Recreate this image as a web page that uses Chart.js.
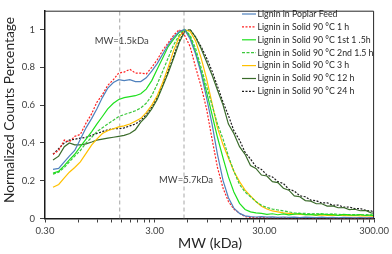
<!DOCTYPE html>
<html><head><meta charset="utf-8">
<script src="https://cdn.jsdelivr.net/npm/chart.js@4/dist/chart.umd.min.js"></script>
<style>html,body{margin:0;padding:0;background:#fff}canvas{display:block}</style>
</head><body>
<canvas id="c" width="392" height="254" style="width:392px;height:254px"></canvas>
<script>
// ---- data ----
const mw = [0.355,0.40,0.45,0.50,0.56,0.63,0.71,0.80,0.89,1.0,1.12,1.26,1.41,1.58,1.78,2.0,2.24,2.51,2.82,3.16,
  3.55,3.98,4.47,5.01,5.62,6.31,7.08,7.94,8.91,10,11.2,12.6,14.1,15.8,17.8,20,22.4,25.1,28.2,31.6,
  35.5,39.8,44.7,50.1,56.2,63.1,70.8,79.4,89.1,100,112,126,141,158,178,200,224,251,282,300];

const seriesNames = ['Lignin in Poplar Feed','Lignin in Solid 90 °C 1 h','Lignin in Solid 90 °C 1st 1 .5h',
  'Lignin in Solid 90 °C 2nd 1.5 h','Lignin in Solid 90 °C 3 h','Lignin in Solid 90 °C 12 h','Lignin in Solid 90 °C 24 h'];

const poplarFeed = [0.26,0.265,0.30,0.33,0.36,0.42,0.48,0.53,0.58,0.64,0.69,0.72,0.735,0.73,0.735,0.725,0.725,0.745,0.78,0.82,
  0.87,0.92,0.96,0.99,1.0,0.95,0.87,0.77,0.64,0.50,0.34,0.20,0.11,0.055,0.027,0.014,0.010,0.008,0.010,0.007,
  0.009,0.006,0.008,0.006,0.007,0.005,0.007,0.006,0.005,0.007,0.005,0.006,0.004,0.006,0.005,0.004,0.005,0.004,0.005,0.004];

const solid1h = [0.34,0.36,0.415,0.405,0.435,0.445,0.505,0.555,0.615,0.655,0.705,0.735,0.77,0.775,0.79,0.77,0.77,0.765,0.80,0.84,
  0.89,0.93,0.97,1.0,0.97,0.91,0.80,0.70,0.58,0.42,0.27,0.16,0.09,0.05,0.028,0.010,0.005,0.004,0.006,0.003,
  0.004,0.003,0.005,0.003,0.004,0.002,0.004,0.003,0.002,0.004,0.003,0.002,0.003,0.002,0.003,0.002,0.003,0.002,0.002,0.002];

const solid1st15h = [0.24,0.25,0.28,0.31,0.34,0.38,0.42,0.46,0.50,0.54,0.58,0.61,0.63,0.64,0.645,0.65,0.66,0.685,0.73,0.79,
  0.85,0.91,0.95,0.985,1.0,0.96,0.88,0.78,0.67,0.55,0.43,0.32,0.22,0.14,0.08,0.048,0.035,0.030,0.027,0.022,
  0.025,0.020,0.024,0.019,0.023,0.026,0.020,0.022,0.018,0.024,0.020,0.021,0.017,0.022,0.019,0.018,0.021,0.016,0.019,0.015];

const solid2nd15h = [0.235,0.245,0.27,0.30,0.33,0.36,0.40,0.43,0.46,0.48,0.50,0.52,0.54,0.55,0.56,0.57,0.585,0.61,0.65,0.71,
  0.78,0.85,0.92,0.97,1.0,0.97,0.90,0.80,0.70,0.60,0.50,0.42,0.33,0.25,0.18,0.14,0.115,0.09,0.07,0.058,
  0.05,0.045,0.04,0.035,0.03,0.028,0.027,0.025,0.026,0.024,0.023,0.025,0.022,0.020,0.021,0.020,0.019,0.020,0.018,0.017];

const solid3h = [0.165,0.18,0.215,0.245,0.27,0.30,0.345,0.39,0.42,0.45,0.465,0.475,0.485,0.49,0.50,0.515,0.53,0.56,0.60,0.65,
  0.72,0.80,0.89,0.96,1.0,0.99,0.94,0.85,0.74,0.61,0.48,0.39,0.32,0.25,0.195,0.15,0.12,0.09,0.065,0.05,
  0.04,0.035,0.03,0.027,0.024,0.022,0.020,0.021,0.018,0.019,0.017,0.018,0.016,0.017,0.015,0.016,0.014,0.015,0.013,0.012];

const solid12h = [0.31,0.33,0.38,0.40,0.39,0.39,0.395,0.405,0.415,0.42,0.425,0.43,0.435,0.44,0.45,0.47,0.51,0.54,0.58,0.63,
  0.70,0.77,0.85,0.93,0.99,1.0,0.96,0.90,0.83,0.76,0.68,0.60,0.50,0.45,0.38,0.34,0.28,0.265,0.23,0.225,
  0.195,0.19,0.16,0.15,0.12,0.115,0.095,0.092,0.078,0.078,0.066,0.067,0.057,0.058,0.047,0.049,0.041,0.043,0.03,0.028];

const solid24h = [0.34,0.37,0.40,0.415,0.42,0.425,0.43,0.44,0.45,0.46,0.47,0.475,0.475,0.48,0.49,0.50,0.52,0.55,0.59,0.64,
  0.71,0.78,0.86,0.94,0.99,1.0,0.96,0.91,0.85,0.78,0.70,0.615,0.545,0.465,0.415,0.35,0.315,0.275,0.26,0.23,
  0.22,0.195,0.185,0.155,0.145,0.12,0.115,0.097,0.094,0.082,0.083,0.07,0.071,0.06,0.061,0.052,0.053,0.043,0.04,0.034];

const xMajorTicks = [0.3, 3, 30, 300];
const xTickLabels = ['0.30', '3.00', '30.00', '300.00'];
const yTicks = [0, 0.2, 0.4, 0.6, 0.8, 1];
const yTickLabels = ['0', '0.2', '0.4', '0.6', '0.8', '1'];
const markerMW = [1.44, 5.55];
const markerLabels = ['MW=1.5kDa', 'MW=5.7kDa'];
const xTitle = 'MW (kDa)';
const yTitle = 'Normalized Counts Percentage';

// ---- styles ----
const seriesValues = [poplarFeed, solid1h, solid1st15h, solid2nd15h, solid3h, solid12h, solid24h];
const colors = ['#4f81bd', '#ff2020', '#1ee01e', '#3cc83c', '#ffc000', '#3a6b2a', '#1a1a1a'];
const dashes = [[], [2, 1.5], [], [3, 1.5], [], [], [2, 1.5]];
const FONT = 'Lato, "Open Sans", sans-serif';

const allXTicks = [];
xMajorTicks.forEach((m, i) => {
  allXTicks.push(m);
  if (i < xMajorTicks.length - 1) for (let k = 2; k <= 9; k++) allXTicks.push(+(m * k).toFixed(6));
});

const datasets = seriesValues.map((vals, s) => ({
  label: seriesNames[s],
  data: mw.map((x, i) => ({ x, y: vals[i] })),
  borderColor: colors[s],
  borderDash: dashes[s],
  borderWidth: 1.2,
  pointRadius: 0,
  tension: 0,
  fill: false,
  isSeries: true,
  order: s
}));
markerMW.forEach(m => datasets.push({
  label: 'marker',
  data: [{ x: m, y: 0 }, { x: m, y: 1.1 }],
  borderColor: '#a6a6a6',
  borderDash: [4, 3],
  borderWidth: 1,
  pointRadius: 0,
  order: 20
}));

function fitSize(ctx, text, target, weight) {
  ctx.font = (weight || '') + ' 10px ' + FONT;
  return 10 * target / ctx.measureText(text).width;
}

const decor = {
  id: 'decor',
  afterDraw(chart) {
    const { ctx, chartArea: a, scales } = chart;
    ctx.save();
    // frame top/right
    ctx.strokeStyle = '#262626';
    ctx.lineWidth = 1;
    ctx.beginPath();
    ctx.moveTo(a.left, a.top + 0.5);
    ctx.lineTo(a.right - 0.5, a.top + 0.5);
    ctx.lineTo(a.right - 0.5, a.bottom);
    ctx.stroke();

    // marker labels
    ctx.fillStyle = '#404040';
    ctx.textAlign = 'center';
    ctx.textBaseline = 'middle';
    ctx.font = '9.5px ' + FONT;
    const labelVals = [0.94, 0.205];
    markerMW.forEach((m, i) => {
      const px = scales.x.getPixelForValue(m);
      ctx.fillText(markerLabels[i], px + 2, scales.y.getPixelForValue(labelVals[i]));
    });

    // legend
    const ls = fitSize(ctx, seriesNames[3], 116);
    ctx.font = ls.toFixed(2) + 'px ' + FONT;
    ctx.textAlign = 'left';
    ctx.textBaseline = 'middle';
    seriesNames.forEach((name, i) => {
      const y = 14 + i * 12.9;
      ctx.strokeStyle = colors[i];
      ctx.lineWidth = 1.2;
      ctx.setLineDash(dashes[i]);
      ctx.beginPath();
      ctx.moveTo(242, y);
      ctx.lineTo(256, y);
      ctx.stroke();
      ctx.setLineDash([]);
      ctx.fillStyle = '#262626';
      ctx.fillText(name, 257.5, y);
    });

    // axis titles
    ctx.fillStyle = '#262626';
    ctx.textAlign = 'center';
    const xs = fitSize(ctx, xTitle, 64);
    ctx.font = xs.toFixed(2) + 'px ' + FONT;
    ctx.fillText(xTitle, 210, 243);
    const ys = fitSize(ctx, yTitle, 186);
    ctx.font = ys.toFixed(2) + 'px ' + FONT;
    ctx.translate(10, 110);
    ctx.rotate(-Math.PI / 2);
    ctx.fillText(yTitle, 0, 0);
    ctx.restore();
  }
};

new Chart(document.getElementById('c'), {
  type: 'line',
  data: { datasets },
  plugins: [decor],
  options: {
    responsive: false,
    animation: false,
    devicePixelRatio: 1,
    layout: { padding: { left: 0, right: 16, top: 2, bottom: 0 } },
    plugins: { legend: { display: false }, tooltip: { enabled: false } },
    scales: {
      x: {
        type: 'logarithmic',
        min: 0.3,
        max: 300,
        afterBuildTicks: s => { s.ticks = allXTicks.map(v => ({ value: v })); },
        afterFit: s => { s.height = 35.5; },
        ticks: {
          autoSkip: false, maxRotation: 0, minRotation: 0, padding: 3,
          color: '#404040', font: { family: FONT, size: 9.5 },
          callback: v => { const i = xMajorTicks.findIndex(m => Math.abs(m - v) < 1e-6); return i >= 0 ? xTickLabels[i] : ''; }
        },
        grid: { drawOnChartArea: false, drawTicks: true, tickLength: 4, tickColor: '#404040' },
        border: { display: true, color: '#1a1a1a', width: 1.5 }
      },
      y: {
        type: 'linear',
        min: 0,
        max: 1.1,
        afterBuildTicks: s => { s.ticks = yTicks.map(v => ({ value: v })); },
        afterFit: s => { s.width = 45; },
        ticks: {
          padding: 5, color: '#404040', font: { family: FONT, size: 9.5 },
          callback: v => { const i = yTicks.findIndex(t => Math.abs(t - v) < 1e-6); return i >= 0 ? yTickLabels[i] : ''; }
        },
        grid: { drawOnChartArea: false, drawTicks: true, tickLength: 5, tickColor: '#404040' },
        border: { display: true, color: '#1a1a1a', width: 1.5 }
      }
    }
  }
});
</script>
</body></html>
